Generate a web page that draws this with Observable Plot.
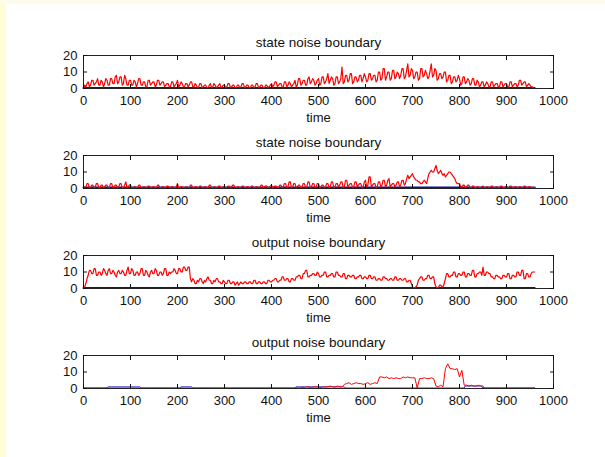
<!DOCTYPE html>
<html><head><meta charset="utf-8">
<script src="https://cdn.jsdelivr.net/npm/d3@7"></script>
<script src="https://cdn.jsdelivr.net/npm/@observablehq/plot@0.6"></script>
<style>
html,body{margin:0;padding:0;}
body{width:605px;height:457px;position:relative;overflow:hidden;background:#fdfcec;font-family:"Liberation Sans",Arial,sans-serif;}
#page{position:absolute;left:6px;top:4px;right:0;bottom:0;background:#fff;}
#strip{position:absolute;left:0;top:4px;width:6px;bottom:0;background:#fefdd6;}
.sub{position:absolute;left:0;}
</style></head><body><div id="page"></div><div id="strip"></div>
<script>
const titles = ["state noise boundary", "state noise boundary", "output noise boundary", "output noise boundary"];
const xLabel = "time";
const xTicks = [0, 100, 200, 300, 400, 500, 600, 700, 800, 900, 1000];
const yTicks = [0, 10, 20];
const steps = [2.5, 2.5, 2.5, 5]; // sample spacing of each red series (time units)

const red1 = [
0,2,1,3,4,1,2,5,5,2,3,4,6,2,2,5,4,1,3,6,
5,2,2,6,6,3,3,7,8,3,4,7,7,2,3,8,6,2,2,5,
5,2,2,5,4,1,3,6,6,2,2,4,4,1,1,5,5,2,3,4,
4,1,2,5,5,2,3,4,4,1,2,3,3,1,1,4,4,1,2,3,
5,1,2,4,3,1,1,3,3,1,2,4,4,1,1,3,2,0.5,1,3,
3,0.5,1,2,2,0.5,0.5,2,3,0.5,1,3,2,0.5,1,2,3,0.5,1,2,
2,0.5,1,3,3,0.5,1,2,2,0.5,0.5,2,2,0.5,1,3,3,0.5,1,2,
2,0.5,0.5,2,2,0.5,1,3,3,0.5,1,2,2,0.5,0.5,2,2,0.5,1,2,
3,1,2,4,4,1,2,3,3,1,1,4,4,1,2,4,3,1,2,3,
5,1,2,6,6,2,3,5,5,2,2,6,7,3,4,6,5,2,3,5,
6,2,3,7,7,3,4,6,9,3,5,7,6,2,3,7,7,3,4,6,
13,3,4,8,8,4,5,9,9,3,4,7,7,4,5,8,8,4,6,9,
7,4,5,9,9,5,6,8,8,4,5,10,10,5,6,12,12,5,7,10,
10,5,6,11,11,6,7,10,9,6,8,12,12,6,7,11,15,7,8,12,
11,6,7,10,10,5,6,12,12,7,8,11,9,6,7,11,15,7,8,12,
11,5,6,9,9,6,7,10,10,4,5,8,8,3,4,7,7,4,5,8,
6,2,3,7,7,3,4,6,5,2,3,6,6,2,2,5,4,1,2,4,
4,1,2,4,3,1,1,4,4,1,2,3,3,1,1,4,4,1,2,3,
3,1,1,4,4,1,2,3,3,1,2,5,5,2,3,4,4,1,2,3,
2,1,1,0.5,0];

const red2 = [
0,1,1,3,3,0.5,0.5,2,2,0.5,1,3,3,0.5,0.5,2,2,0.5,1,2,
2,0.5,0.5,3,3,0.5,1,2,2,0.5,1,3,3,0.5,0.5,2,4,0.5,1,2,
2,0.5,0.5,1,1,0.5,0.5,2,2,0.5,0.5,1,1,0.5,0.5,1.5,1.5,0.5,0.5,1,
1,0.5,0.5,2,2,0.5,0.5,1,1,0.5,0.5,1.5,1.5,0.5,0.5,1,1,0.5,0.5,1,
3,0.5,0.5,1,1,0.5,0.5,1,1,0.5,0.5,2,2,0.5,0.5,1,1,0.5,0.5,1.5,
1.5,0.5,0.5,1,1,0.5,0.5,2,2,0.5,0.5,1,1,0.5,0.5,1.5,1.5,0.5,0.5,1,
1,0.5,0.5,1.5,1.5,0.5,1,2,2,0.5,0.5,1,1,0.5,0.5,1.5,1.5,0.5,0.5,1,
1,0.5,0.5,1.5,1.5,0.5,0.5,1,1,0.5,0.5,2,2,0.5,1,1.5,1.5,0.5,0.5,1.5,
2,0.5,1,1.5,1.5,0.5,0.5,2,2,0.5,1,3,3,0.5,1,4,4,0.5,1,3,
3,0.5,1,2,2,0.5,1,3,3,0.5,1,4,4,0.5,1,3,3,0.5,1,3,
3,0.5,1,2,2,0.5,1,3,3,0.5,1,4,4,0.5,1,3,3,1,2,4,
4,0.5,1,5,5,1,2,3,3,0.5,1,4,4,1,2,3,3,0.5,1,4,
5,1,2,7,7,1,2,3,3,0.5,1,4,4,1,2,5,5,1,2,5,
6,1,2,3,3,1,2,4,4,1,2,5,5,2,3,6,8,6,7,8,
9,7,6,5,5,4,4,3,3,4,5,4,3,6,9,10,11,10,10,12,
14,11,9,10,11,9,8,9,7,8,9,10,10,9,8,7,6,4,3,3,
3,1,1,2,2,0.5,1,2,2,0.5,0.5,1.5,1.5,0.5,0.5,1,1,0.5,0.5,1,
1.5,0.5,0.5,1,1,0.5,0.5,1.5,1.5,0.5,0.5,1,1,0.5,0.5,1.5,1.5,0.5,0.5,1,
1,0.5,0.5,1.5,1.5,0.5,0.5,1,1,0.5,0.5,1,1,0.5,0.5,1.5,1.5,0.5,0.5,1,
1,0.5,0.5,0.5,0.5];

const red3 = [
0,1,3,6,8,11,11,9,9,12,12,8,8,10,10,8,9,12,11,9,
8,11,12,9,9,11,10,8,7,10,11,9,9,11,10,8,8,11,13,9,
9,12,11,8,8,10,10,8,9,12,12,8,8,11,10,8,7,10,11,9,
9,12,11,8,8,10,10,8,9,12,12,8,8,10,9,10,10,12,11,9,
9,12,12,10,10,13,13,11,11,13,13,6,4,6,5,3,3,5,4,6,
6,4,3,5,4,6,7,5,5,3,3,5,4,6,6,4,4,3,3,5,
4,3,3,5,5,3,3,4,4,2,3,4,2,3,4,3,3,4,4,3,
3,4,4,3,3,5,5,3,3,4,4,3,3,4,4,3,3,5,5,4,
4,5,5,6,6,4,4,5,5,7,7,5,5,6,6,4,4,6,6,5,
5,7,7,8,8,6,6,9,9,11,11,7,7,8,8,9,9,8,8,10,
9,7,7,8,8,10,10,7,7,8,8,9,9,7,7,10,10,8,8,7,
7,9,9,6,6,8,8,7,7,8,8,6,6,7,7,8,8,6,6,7,
7,6,6,8,8,6,6,7,7,5,5,6,6,5,5,7,7,6,6,5,
5,6,6,5,5,7,7,5,5,6,6,5,5,6,6,4,4,5,5,3,
1,0.5,0.5,1,2,5,6,7,7,5,5,6,6,8,8,6,6,7,7,3,
1,0.5,0.5,2,2,1,1,3,6,9,9,7,7,8,8,10,10,7,7,9,
9,8,8,10,10,7,7,9,9,8,8,11,11,7,7,9,9,10,10,8,
13,8,8,10,10,9,9,7,7,6,6,8,8,7,7,6,6,8,8,7,
7,9,9,6,6,8,8,7,7,10,10,8,8,11,11,6,6,9,9,7,
7,9,10,10,10];

const red4 = [
0.3,0.3,0.3,0.3,0.3,0.3,0.3,0.3,0.3,0.3,
0.3,0.3,0.3,0.3,0.3,0.3,0.3,0.3,0.3,0.3,
0.3,0.3,0.3,0.3,0.3,0.3,0.3,0.3,0.3,0.3,
0.3,0.3,0.3,0.3,0.3,0.3,0.3,0.3,0.3,0.3,
0.3,0.3,0.3,0.3,0.3,0.3,0.3,0.3,0.3,0.3,
0.3,0.3,0.3,0.3,0.3,0.3,0.3,0.3,0.3,0.3,
0.3,0.3,0.3,0.3,0.3,0.3,0.3,0.3,0.3,0.3,
0.3,0.3,0.3,0.3,0.3,0.3,0.3,0.3,0.3,0.3,
0.3,0.3,0.3,0.3,0.3,0.3,0.3,0.3,0.3,0.3,
0.3,0.5,0.3,0.8,0.5,1,0.8,0.5,1,0.8,
1,0.5,1,0.8,1,1.5,1,0.8,1.5,1,
1,2.5,3,3.5,2.5,3,3.5,3,3,2.5,
3,3.5,2.5,3,3.5,3,7,7,6.5,7,
6,6.5,6,6.5,6,6,7,6.5,7,6.5,
6.5,6.5,0.3,6,6,6.5,6,6,6.5,6,
1.5,1,2,1,12,15,12,12,11.5,12,
7,11,2,2,1.5,2,1.5,1.5,2,1.5,
0.3,0.3,0.3,0.3,0.3,0.3,0.3,0.3,0.3,0.3,
0.3,0.3,0.3,0.3,0.3,0.3,0.3,0.3,0.3,0.3,
0.3,0.3,0.3];

// blue series: breakpoints (time, value)
const blueT1 = [0, 960], blueV1 = [0.3, 0.3];
const blueT2 = [0, 960], blueV2 = [0.6, 0.6];
const blueT3 = [0, 960], blueV3 = [0.3, 0.3];
const blueT4 = [0, 50, 52, 120, 122, 205, 207, 230, 232, 450, 452, 555, 557, 810, 812, 850, 852, 960];
const blueV4 = [0.3, 0.3, 1, 1, 0.3, 0.3, 1, 1, 0.3, 0.3, 1, 1, 0.3, 0.3, 1.5, 1.5, 0.3, 0.3];

const panels = [
  [red1, blueT1, blueV1, 2],
  [red2, blueT2, blueV2, 2],
  [red3, blueT3, blueV3, 2],
  [red4, blueT4, blueV4, 1]
];

panels.forEach(([red, bt, bv, bw], i) => {
  const redData = red.map((v, k) => ({t: k * steps[i], v}));
  const blueData = bt.map((t, k) => ({t, v: bv[k]}));
  const svg = Plot.plot({
    width: 605, height: 100,
    marginLeft: 83, marginRight: 52, marginTop: 35, marginBottom: 32,
    style: {background: "transparent", overflow: "visible", fontFamily: "'Liberation Sans', Arial, sans-serif", fontSize: "13px", color: "#111"},
    x: {domain: [0, 1000]},
    y: {domain: [0, 20]},
    marks: [
      Plot.line(blueData, {x: "t", y: "v", stroke: i === 3 ? "#3a2cc8" : "#10109a", strokeWidth: bw}),
      Plot.line(redData, {x: "t", y: "v", stroke: "#ff0000", strokeWidth: i === 3 ? 1 : 1.2}),
      Plot.frame({stroke: "#222"}),
      Plot.axisX({anchor: "bottom", ticks: xTicks, tickSize: -4, tickPadding: 11, tickFormat: d => String(d), label: null, fontSize: 13}),
      Plot.axisX({anchor: "top", ticks: xTicks, tickSize: -4, tickFormat: () => "", label: null}),
      Plot.axisY({anchor: "left", ticks: yTicks, tickSize: -4, tickPadding: 10, tickFormat: d => String(d), label: null, fontSize: 13}),
      Plot.axisY({anchor: "right", ticks: yTicks, tickSize: -4, tickFormat: () => "", label: null}),
      Plot.text([titles[i]], {frameAnchor: "top", dy: -18, text: d => d, fontSize: 13.5}),
      Plot.text([xLabel], {frameAnchor: "bottom", dy: 33, text: d => d, fontSize: 13})
    ]
  });
  svg.classList.add("sub");
  svg.style.top = (20 + 100 * i) + "px";
  document.body.appendChild(svg);
});
</script></body></html>
